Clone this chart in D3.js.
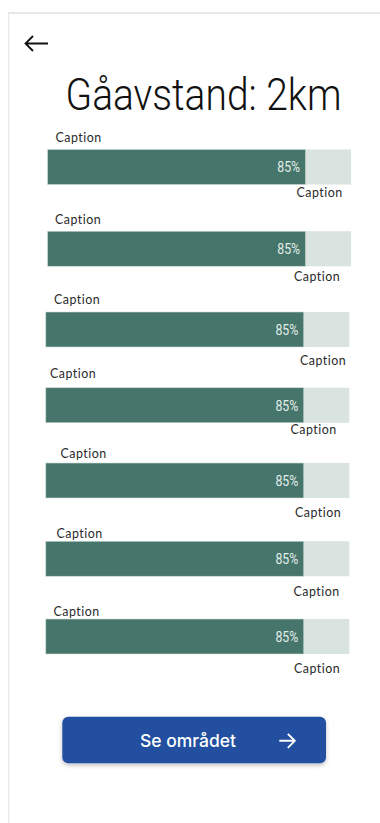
<!DOCTYPE html>
<html>
<head>
<meta charset="utf-8">
<script src="https://cdn.jsdelivr.net/npm/d3@7"></script>
<style>
  body { margin: 0; background: #fff; }
  svg { display: block; }
</style>
</head>
<body>
<div id="chart"></div>
<script>
// rows of the walking-distance card
var rows = ["r1", "r2", "r3", "r4", "r5", "r6", "r7"];
var topCaptions = ["Caption", "Caption", "Caption", "Caption", "Caption", "Caption", "Caption"];
var bottomCaptions = ["Caption", "Caption", "Caption", "Caption", "Caption", "Caption", "Caption"];
var shares = [85, 85, 85, 85, 85, 85, 85];
var title = "Gåavstand: 2km";
var buttonLabel = "Se området";

// hand placed look of the mockup (small per-row nudges)
var rowNudge = [0, 3.5, 6, 3.5, 0.5, 0.5, 0];
var xNudge = [1.8, 1.8, 0, 0, 0, 0, 0];
var topCapX = [55.5, 55, 54, 50, 60.5, 56.5, 53.5];
var topCapDy = [-8, -7, -8.5, -9.5, -5, -3, -3];
var botCapX = [296.5, 294, 300, 290.5, 295, 293.5, 294];
var botCapDy = [12, 15, 18, 11.5, 19, 20, 19];

var W = 380, H = 823;
var svg = d3.select("#chart").append("svg")
    .attr("width", W)
    .attr("height", H);

var defs = svg.append("defs");
var f = defs.append("filter").attr("id", "shadow")
    .attr("x", "-10%").attr("y", "-30%").attr("width", "120%").attr("height", "180%");
f.append("feDropShadow")
    .attr("dx", 0).attr("dy", 2).attr("stdDeviation", 2)
    .attr("flood-color", "#000").attr("flood-opacity", 0.25);

// page frame
svg.append("rect").attr("x", 8).attr("y", 12).attr("width", W - 8).attr("height", 2).attr("fill", "#e8e8e8");
svg.append("rect").attr("x", 8).attr("y", 12).attr("width", 1.2).attr("height", H - 12).attr("fill", "#e8e8e8");

// back arrow
svg.append("path")
    .attr("d", "M25.5,43.5 H48 M33,36 L25.5,43.5 L33,51")
    .attr("fill", "none")
    .attr("stroke", "#111")
    .attr("stroke-width", 1.8);

// title, squeezed horizontally to mimic the condensed face
var t = svg.append("text")
    .style("font-family", "Roboto, sans-serif")
    .style("font-weight", 300)
    .style("font-size", "45px")
    .attr("fill", "#111")
    .text(title);
var tw = t.node().getComputedTextLength();
t.attr("transform", "translate(65.5,109.5) scale(" + (276 / tw) + ",1)");

// scales
var barH = 35;
var y = d3.scalePoint()
    .domain(rows)
    .range([149.5, 619]);
var x = d3.scaleLinear()
    .domain([0, 100])
    .range([0, 303.5]);
var x0 = 45.8;

var g = svg.selectAll("g.row")
    .data(rows)
    .enter()
    .append("g")
      .attr("class", "row")
      .attr("transform", function(d, i) {
        return "translate(" + (x0 + xNudge[i]) + "," + (y(d) + rowNudge[i]) + ")";
      });

// track
g.append("rect")
    .attr("x", x(0))
    .attr("y", 0)
    .attr("width", x(100) - x(0))
    .attr("height", barH)
    .attr("fill", "#d9e3e0");

// filled part
g.append("rect")
    .attr("x", x(0))
    .attr("y", 0)
    .attr("width", function(d, i) { return x(shares[i]) - x(0); })
    .attr("height", barH)
    .attr("fill", "#46756b")
    .attr("stroke", "#cfdcd8")
    .attr("stroke-width", 0.6);

// value label
g.append("text")
    .attr("x", 0)
    .attr("y", 0)
    .attr("text-anchor", "end")
    .attr("dominant-baseline", "central")
    .attr("transform", function(d, i) {
      return "translate(" + (x(shares[i]) - 5.5) + "," + (barH / 2 + 0.5) + ") scale(0.85,1)";
    })
    .style("font-family", "Roboto, sans-serif")
    .style("font-size", "14.5px")
    .attr("fill", "#e3eeea")
    .text(function(d, i) { return shares[i] + "%"; });

// captions
svg.selectAll("text.topcap")
    .data(rows)
    .enter()
    .append("text")
      .attr("class", "topcap")
      .attr("x", function(d, i) { return topCapX[i]; })
      .attr("y", function(d, i) { return y(d) + rowNudge[i] + topCapDy[i]; })
      .style("font-family", "Lato, sans-serif")
      .style("font-size", "12.4px")
      .style("letter-spacing", "0.5px")
      .attr("fill", "#2a2a2a")
      .text(function(d, i) { return topCaptions[i]; });

svg.selectAll("text.botcap")
    .data(rows)
    .enter()
    .append("text")
      .attr("class", "botcap")
      .attr("x", function(d, i) { return botCapX[i]; })
      .attr("y", function(d, i) { return y(d) + rowNudge[i] + barH + botCapDy[i]; })
      .style("font-family", "Lato, sans-serif")
      .style("font-size", "12.4px")
      .style("letter-spacing", "0.5px")
      .attr("fill", "#2a2a2a")
      .text(function(d, i) { return bottomCaptions[i]; });

// button
var btn = svg.append("g").attr("transform", "translate(62.3,716.8)");
btn.append("rect")
    .attr("width", 263.7)
    .attr("height", 46.5)
    .attr("rx", 6)
    .attr("fill", "#2450a0")
    .attr("filter", "url(#shadow)");
btn.append("text")
    .attr("x", 77.7)
    .attr("y", 24)
    .attr("dominant-baseline", "central")
    .style("font-family", "Inter, Roboto, sans-serif")
    .style("font-weight", 500)
    .style("font-size", "17.5px")
    .attr("fill", "#fff")
    .text(buttonLabel);
btn.append("path")
    .attr("d", "M217,24 H232.5 M225.5,17 L232.5,24 L225.5,31")
    .attr("fill", "none")
    .attr("stroke", "#fff")
    .attr("stroke-width", 1.9);
</script>
</body>
</html>
